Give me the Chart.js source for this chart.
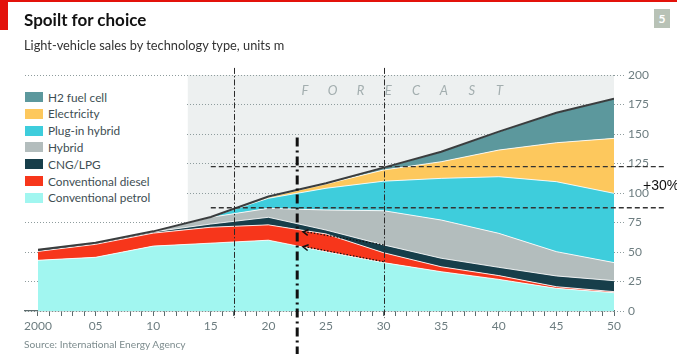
<!DOCTYPE html>
<html><head><meta charset="utf-8">
<script src="https://cdn.jsdelivr.net/npm/chart.js@4/dist/chart.umd.min.js"></script>
<style>
html,body{margin:0;padding:0;background:#fff;}
#wrap{position:relative;width:677px;height:354px;overflow:hidden;font-family:Lato,"Open Sans",sans-serif;}
#c{position:absolute;left:0;top:0;}
.topbar{position:absolute;left:0;top:0;width:677px;height:2px;background:#e3120b;}
.redtab{position:absolute;left:0;top:0;width:8px;height:30px;background:#e3120b;}
.title{position:absolute;left:24px;top:10px;font-size:17px;line-height:20px;font-weight:700;color:#121212;white-space:nowrap;}
.subtitle{position:absolute;left:24px;top:37px;font-size:12.8px;line-height:16px;color:#333;white-space:nowrap;}
.num{position:absolute;left:654px;top:9px;width:16px;height:19px;background:#b8c2b6;color:#fff;font-weight:700;font-size:12px;text-align:center;line-height:19px;}
.legend{position:absolute;left:20px;top:80px;width:165px;height:130px;background:#fff;}
.lrow{position:absolute;left:5px;height:16px;display:flex;align-items:center;font-size:11.8px;color:#3e4e53;white-space:nowrap;}
.sw{width:18px;height:10px;margin-right:5px;}
.forecast{position:absolute;left:291px;top:82px;height:18px;font-size:13px;font-style:italic;color:#a3aeaf;}
.forecast span{display:inline-block;width:27.8px;text-align:center;}
.pct{position:absolute;left:643px;top:176px;font-family:"Liberation Sans",Arial,sans-serif;font-size:14px;line-height:18px;color:#111;white-space:nowrap;}
.source{position:absolute;left:24px;top:337px;font-size:10.2px;line-height:14px;color:#7d8c8e;white-space:nowrap;}
</style></head>
<body>
<div id="wrap">
<canvas id="c" width="677" height="354"></canvas>
<div class="topbar"></div><div class="redtab"></div>
<div class="title">Spoilt for choice</div>
<div class="subtitle">Light-vehicle sales by technology type, units m</div>
<div class="num">5</div>
<div class="legend" id="legend"></div>
<div class="forecast" id="forecast"></div>
<div class="pct">+30%</div>
<div class="source">Source: International Energy Agency</div>
</div>
<script>
// ---- data (units m) ----
const years = [2000, 2005, 2010, 2015, 2020, 2025, 2030, 2035, 2040, 2045, 2050];
const petrol      = [43, 45.5, 55, 57.5, 60, 50.3, 41, 33.3, 26.8, 19.2, 15.5];
const diesel      = [7.5, 11, 11, 13.5, 13, 15, 8.4, 4.2, 3.2, 1.4, 0.9];
const cngLpg      = [1.5, 1, 1, 2.7, 6.4, 3.3, 6.6, 7.2, 7, 9.1, 9.3];
const hybrid      = [0, 0.3, 0.5, 5.7, 7.6, 17, 29, 32.4, 28.8, 20.6, 15.3];
const plugin      = [0, 0, 0, 0.3, 8.5, 18.4, 25, 35.3, 48, 59.3, 58.7];
const electricity = [0, 0, 0, 0, 1, 3.6, 9.5, 14.1, 22.6, 33, 46.6];
const h2          = [0, 0, 0, 0, 0.5, 0.6, 2, 8.5, 15.6, 25.4, 33.7];
const seriesNames = ['Conventional petrol','Conventional diesel','CNG/LPG','Hybrid','Plug-in hybrid','Electricity','H2 fuel cell'];
const seriesColors = ['#a1f6f0','#f7361b','#173e4a','#b3bdbd','#3ecddc','#fdc85d','#5c989d'];
const seriesValues = [petrol, diesel, cngLpg, hybrid, plugin, electricity, h2];
const xLabelYears = [2000, 2005, 2010, 2015, 2020, 2025, 2030, 2035, 2040, 2045, 2050];
const xTickLabels = ['2000','05','10','15','20','25','30','35','40','45','50'];
const yTicks = [0, 25, 50, 75, 100, 125, 150, 175, 200];
const forecastStart = 2013;
const markerYears = [2017, 2030];
const levelLines = [87.5, 122.3];
const nowYear = 2022.5;
const arrows = [ // [fromYear, fromValue, toYear, toValue]
  [2030, 56, 2023, 67.2],
  [2030, 41.8, 2023, 54.5]
];
const forecastLetters = ['F','O','R','E','C','A','S','T'];

// ---- HTML legend & forecast label ----
const leg = document.getElementById('legend');
for (let k = seriesNames.length - 1, r = 0; k >= 0; k--, r++) {
  const row = document.createElement('div');
  row.className = 'lrow';
  row.style.top = (9 + r * 16.8) + 'px';
  row.innerHTML = '<div class="sw" style="background:' + seriesColors[k] + '"></div>' + seriesNames[k];
  leg.appendChild(row);
}
document.getElementById('forecast').innerHTML = forecastLetters.map(l => '<span>' + l + '</span>').join('');

// ---- datasets ----
const datasets = seriesValues.map((vals, i) => ({
  label: seriesNames[i],
  data: years.map((yr, j) => ({x: yr, y: vals[j]})),
  backgroundColor: seriesColors[i],
  borderColor: 'rgba(255,255,255,0.85)',
  borderWidth: 1,
  fill: i === 0 ? 'origin' : '-1',
  pointRadius: 0,
  tension: 0,
  stack: 'main'
}));
const totals = years.map((_, j) => seriesValues.reduce((s, arr) => s + arr[j], 0));
datasets.push({
  label: 'Total',
  data: years.map((yr, j) => ({x: yr, y: totals[j]})),
  borderColor: '#3a3d3e',
  borderWidth: 2,
  fill: false,
  pointRadius: 0,
  tension: 0,
  stack: 'outline',
  order: -1
});

const minorTicks = [];
for (let yr = 2000; yr <= 2050; yr++) minorTicks.push(yr);

const annot = {
  id: 'annot',
  beforeDraw(chart) {
    const {ctx, scales: {x, y}} = chart;
    ctx.save();
    ctx.fillStyle = '#edf0f0';
    const x0 = x.getPixelForValue(forecastStart), x1 = x.getPixelForValue(2050);
    const y0 = y.getPixelForValue(200), y1 = y.getPixelForValue(0);
    ctx.fillRect(x0, y0, x1 - x0, y1 - y0);
    ctx.restore();
  },
  afterDatasetsDraw(chart) {
    const {ctx, scales: {x, y}} = chart;
    ctx.save();
    ctx.strokeStyle = '#2b2b2b';
    ctx.lineWidth = 1;
    ctx.setLineDash([6, 2, 1.5, 2]);
    markerYears.forEach(yr => {
      const px = Math.round(x.getPixelForValue(yr)) + 0.5;
      ctx.beginPath();
      ctx.moveTo(px, y.getPixelForValue(206));
      ctx.lineTo(px, y.getPixelForValue(-6));
      ctx.stroke();
    });
    ctx.strokeStyle = '#333';
    ctx.lineWidth = 1.3;
    ctx.setLineDash([5, 3]);
    levelLines.forEach(v => {
      const py = y.getPixelForValue(v);
      ctx.beginPath();
      ctx.moveTo(x.getPixelForValue(2015), py);
      ctx.lineTo(chart.width - 12, py);
      ctx.stroke();
    });
    ctx.strokeStyle = '#111';
    ctx.lineWidth = 3;
    ctx.setLineDash([9, 4, 2, 4]);
    const nx = x.getPixelForValue(nowYear);
    ctx.beginPath();
    ctx.moveTo(nx, y.getPixelForValue(147));
    ctx.lineTo(nx, chart.height);
    ctx.stroke();
    arrows.forEach(a => {
      const x1 = x.getPixelForValue(a[0]), y1 = y.getPixelForValue(a[1]);
      const x2 = x.getPixelForValue(a[2]), y2 = y.getPixelForValue(a[3]);
      ctx.strokeStyle = '#111';
      ctx.lineWidth = 1.2;
      ctx.setLineDash([1.5, 1.8]);
      ctx.beginPath(); ctx.moveTo(x1, y1); ctx.lineTo(x2 + 2, y2); ctx.stroke();
      ctx.setLineDash([]);
      const ang = Math.atan2(y2 - y1, x2 - x1);
      const L = 6, w = 0.5;
      ctx.lineWidth = 1.5;
      ctx.beginPath();
      ctx.moveTo(x2 - L * Math.cos(ang - w), y2 - L * Math.sin(ang - w));
      ctx.lineTo(x2, y2);
      ctx.lineTo(x2 - L * Math.cos(ang + w), y2 - L * Math.sin(ang + w));
      ctx.stroke();
    });
    ctx.restore();
  }
};

new Chart(document.getElementById('c'), {
  type: 'line',
  data: {datasets},
  plugins: [annot],
  options: {
    responsive: false,
    devicePixelRatio: 1,
    animation: false,
    layout: {padding: {top: 75, left: 25, right: 0, bottom: 0}},
    plugins: {legend: {display: false}, tooltip: {enabled: false}, title: {display: false}},
    scales: {
      x: {
        type: 'linear',
        min: 2000 - 13 / 11.52,
        max: 2050,
        afterBuildTicks: s => { s.ticks = minorTicks.map(v => ({value: v})); },
        afterFit: s => { s.height = 43; },
        ticks: {
          autoSkip: false, maxRotation: 0, padding: 3, color: '#6d7d80',
          font: {family: 'Lato', size: 12},
          callback: v => { const i = xLabelYears.indexOf(v); return i >= 0 ? xTickLabels[i] : ''; }
        },
        grid: {drawOnChartArea: false, drawTicks: true, tickLength: 5, tickColor: '#5d6b6d', tickWidth: 1},
        border: {display: true, color: '#5d6b6d', width: 1.3}
      },
      y: {
        position: 'right',
        stacked: true,
        min: 0, max: 200,
        afterBuildTicks: s => { s.ticks = yTicks.map(v => ({value: v})); },
        afterFit: s => { s.width = 63; },
        ticks: {padding: 2, color: '#6d7d80', font: {family: 'Lato', size: 12}},
        grid: {color: '#8e9c9d', lineWidth: 1, drawTicks: true, tickLength: 12, tickColor: '#8e9c9d', tickBorderDash: [1, 2]},
        border: {display: false, dash: [1, 2]}
      }
    }
  }
});
</script>
</body></html>
